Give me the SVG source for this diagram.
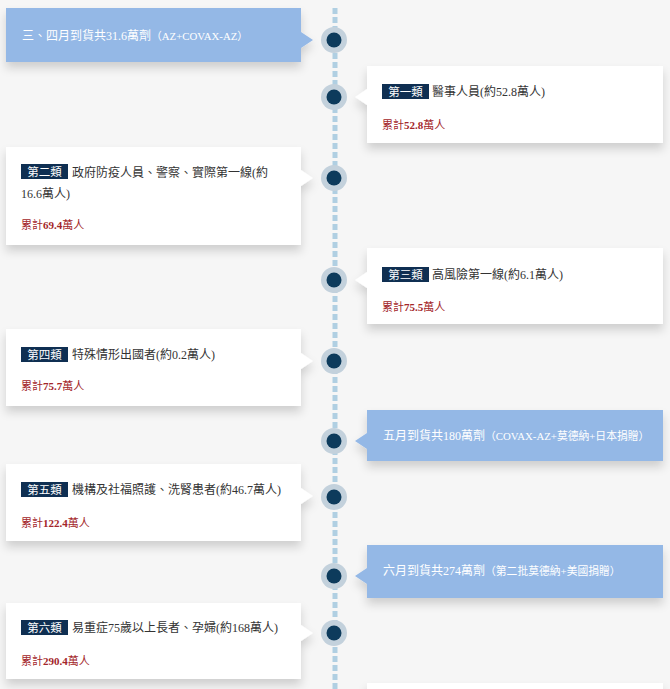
<svg xmlns="http://www.w3.org/2000/svg" width="670" height="689" viewBox="0 0 670 689">
<defs>
<style>
.bg{fill:#f6f6f6}
.card{fill:#ffffff;filter:url(#sh)}
.ban{fill:#94b8e6;filter:url(#sh)}
.tag{fill:#0f2f52}
.tagt{fill:#ffffff;font-family:"Noto Sans CJK TC","Liberation Sans",sans-serif;font-size:11.5px;text-anchor:middle}
.t{fill:#333333;font-family:"Liberation Serif","Noto Sans CJK TC",serif;font-size:12px}
.sum{fill:#a3262a;font-family:"Liberation Serif","Noto Sans CJK TC",serif;font-size:11px}
.num{font-weight:bold}
.bt{fill:#ffffff;font-family:"Liberation Serif","Noto Sans CJK TC",serif;font-size:12px}
.small{font-size:10.8px}
.outer{fill:#c3d1dc}
.inner{fill:#0d3b5c}
</style>
<filter id="sh" x="-10%" y="-20%" width="120%" height="160%">
<feDropShadow dx="0" dy="6" stdDeviation="5" flood-color="#000" flood-opacity="0.16"/>
</filter>
</defs>
<rect class="bg" x="0" y="0" width="670" height="689"/>

<g id="connectors">
<line x1="335" y1="8" x2="335" y2="689" stroke="#b0cfe2" stroke-width="5" stroke-dasharray="6 3"/>
</g>

<g id="banner1">
<path class="ban" d="M6 8H301V32L313 40L301 48V62H6Z"/>
<text class="bt" x="22" y="40">三、四月到貨共31.6萬劑<tspan class="small">（AZ+COVAX-AZ）</tspan></text>
</g>

<g id="card1">
<path class="card" d="M367 66H663V143H367V105L355 97L367 89Z"/>
<rect class="tag" x="382" y="84" width="47" height="15"/>
<text class="tagt" x="405.5" y="96">第一類</text>
<text class="t" x="432" y="96">醫事人員(約52.8萬人)</text>
<text class="sum" x="382" y="129">累計<tspan class="num">52.8</tspan>萬人</text>
</g>

<g id="card2">
<path class="card" d="M6 147H301V170L313 178L301 186V245H6Z"/>
<rect class="tag" x="21" y="164" width="47" height="15"/>
<text class="tagt" x="44.5" y="176">第二類</text>
<text class="t" x="72" y="176.5">政府防疫人員、警察、實際第一線(約</text>
<text class="t" x="21" y="197.5">16.6萬人)</text>
<text class="sum" x="21" y="229">累計<tspan class="num">69.4</tspan>萬人</text>
</g>

<g id="card3">
<path class="card" d="M367 248H663V324H367V288L355 280L367 272Z"/>
<rect class="tag" x="382" y="267" width="47" height="15"/>
<text class="tagt" x="405.5" y="279">第三類</text>
<text class="t" x="432" y="278.5">高風險第一線(約6.1萬人)</text>
<text class="sum" x="382" y="311">累計<tspan class="num">75.5</tspan>萬人</text>
</g>

<g id="card4">
<path class="card" d="M6 329H301V353L313 361L301 369V406H6Z"/>
<rect class="tag" x="21" y="347" width="47" height="15"/>
<text class="tagt" x="44.5" y="359">第四類</text>
<text class="t" x="72" y="358.5">特殊情形出國者(約0.2萬人)</text>
<text class="sum" x="21" y="390">累計<tspan class="num">75.7</tspan>萬人</text>
</g>

<g id="banner2">
<path class="ban" d="M367 410H663V461H367V449L355 441L367 433Z"/>
<text class="bt" x="383" y="440">五月到貨共180萬劑<tspan class="small">（COVAX-AZ+莫德納+日本捐贈）</tspan></text>
</g>

<g id="card5">
<path class="card" d="M6 464H301V488L313 496L301 504V541H6Z"/>
<rect class="tag" x="21" y="482" width="47" height="15"/>
<text class="tagt" x="44.5" y="494">第五類</text>
<text class="t" x="72" y="493.5">機構及社福照護、洗腎患者(約46.7萬人)</text>
<text class="sum" x="21" y="527">累計<tspan class="num">122.4</tspan>萬人</text>
</g>

<g id="banner3">
<path class="ban" d="M367 545H663V598H367V584L355 576L367 568Z"/>
<text class="bt" x="383" y="575">六月到貨共274萬劑<tspan class="small">（第二批莫德納+美國捐贈）</tspan></text>
</g>

<g id="card6">
<path class="card" d="M6 603H301V625L313 633L301 641V679H6Z"/>
<rect class="tag" x="21" y="620" width="47" height="15"/>
<text class="tagt" x="44.5" y="632">第六類</text>
<text class="t" x="72" y="632">易重症75歲以上長者、孕婦(約168萬人)</text>
<text class="sum" x="21" y="665">累計<tspan class="num">290.4</tspan>萬人</text>
</g>

<g id="card7">
<rect class="card" x="367" y="683" width="296" height="40"/>
</g>

<g id="dots">
<circle class="outer" cx="334" cy="40" r="13"/><circle class="inner" cx="334" cy="40" r="7.5"/>
<circle class="outer" cx="334" cy="97" r="13"/><circle class="inner" cx="334" cy="97" r="7.5"/>
<circle class="outer" cx="334" cy="178" r="13"/><circle class="inner" cx="334" cy="178" r="7.5"/>
<circle class="outer" cx="334" cy="280" r="13"/><circle class="inner" cx="334" cy="280" r="7.5"/>
<circle class="outer" cx="334" cy="361" r="13"/><circle class="inner" cx="334" cy="361" r="7.5"/>
<circle class="outer" cx="334" cy="441" r="13"/><circle class="inner" cx="334" cy="441" r="7.5"/>
<circle class="outer" cx="334" cy="497" r="13"/><circle class="inner" cx="334" cy="497" r="7.5"/>
<circle class="outer" cx="334" cy="576" r="13"/><circle class="inner" cx="334" cy="576" r="7.5"/>
<circle class="outer" cx="334" cy="633" r="13"/><circle class="inner" cx="334" cy="633" r="7.5"/>
</g>
</svg>
